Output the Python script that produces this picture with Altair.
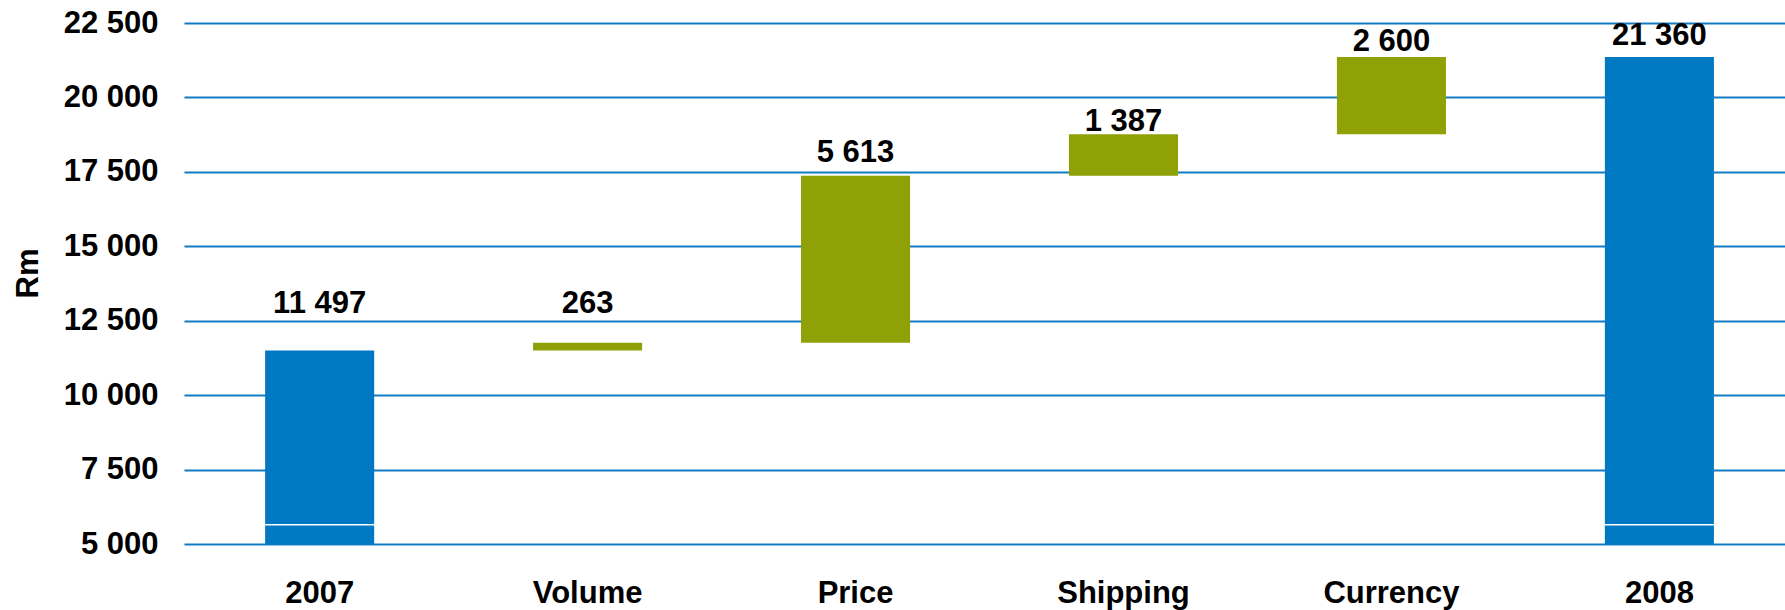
import altair as alt
import pandas as pd

categories = ["2007", "Volume", "Price", "Shipping", "Currency", "2008"]
amounts = [11497, 263, 5613, 1387, 2600, 21360]
is_total = [True, False, False, False, False, True]
label_at = [12770, 12770, 17840, 18880, 21550, 21770]
y_ticks = [5000, 7500, 10000, 12500, 15000, 17500, 20000, 22500]
axis_floor = 5000
break_at = 5650

starts, ends = [], []
running = 0
for a, t in zip(amounts, is_total):
    if t:
        starts.append(axis_floor)
        ends.append(a)
        running = a
    else:
        starts.append(running)
        running += a
        ends.append(running)

df = pd.DataFrame({
    "category": categories,
    "start": starts,
    "end": ends,
    "kind": ["total" if t else "change" for t in is_total],
    "label": [f"{a:,}".replace(",", " ") for a in amounts],
    "label_at": label_at,
    "brk": [break_at if t else None for t in is_total],
})

FONT = "Liberation Sans"
FS = 31
BLUE = "#0079c2"
GREEN = "#8fa107"
GRID = "#137bc3"

x = alt.X(
    "category:N", sort=categories,
    scale=alt.Scale(paddingInner=0.593, paddingOuter=0.284, align=0.533),
    axis=alt.Axis(title=None, labelAngle=0, labelFont=FONT, labelFontSize=FS,
                  labelFontWeight="bold", labelColor="black", ticks=False,
                  domain=False, labelPadding=34, grid=False),
)

yscale = alt.Scale(domain=[5000, 22500], nice=False, zero=False)

bars = alt.Chart(df).mark_bar().encode(
    x=x,
    y=alt.Y("start:Q", scale=yscale, axis=alt.Axis(
        values=y_ticks, title="Rm", grid=True, gridColor=GRID, gridWidth=2,
        domain=False, ticks=False, labelPadding=26, labelFont=FONT,
        labelFontSize=FS, labelFontWeight="bold", labelColor="black",
        labelExpr="replace(format(datum.value, ','), ',', ' ')",
        titleFont=FONT, titleFontSize=FS, titleFontWeight="bold",
        titleColor="black", titleAngle=-90, titleX=-156, titleY=250,
        titleBaseline="middle", titleAlign="center")),
    y2="end:Q",
    color=alt.Color("kind:N", scale=alt.Scale(domain=["total", "change"],
                                                range=[BLUE, GREEN]), legend=None),
)

breaks = alt.Chart(df).transform_filter("datum.brk != null").mark_tick(
    color="white", thickness=1.5, size=109, opacity=1).encode(
    x=alt.X("category:N", sort=categories),
    y=alt.Y("brk:Q", scale=yscale),
)

labels = alt.Chart(df).mark_text(
    font=FONT, fontSize=FS, fontWeight="bold", color="black",
    baseline="alphabetic", align="center").encode(
    x=alt.X("category:N", sort=categories),
    y=alt.Y("label_at:Q", scale=yscale),
    text="label:N",
)

chart = alt.layer(bars, breaks, labels).properties(
    width=1601, height=521,
    autosize=alt.AutoSizeParams(type="none"),
    padding={"left": 184, "top": 23, "right": 0, "bottom": 66},
).configure_view(stroke=None)

chart.save("out.html", embed_options={"renderer": "svg", "actions": False})
